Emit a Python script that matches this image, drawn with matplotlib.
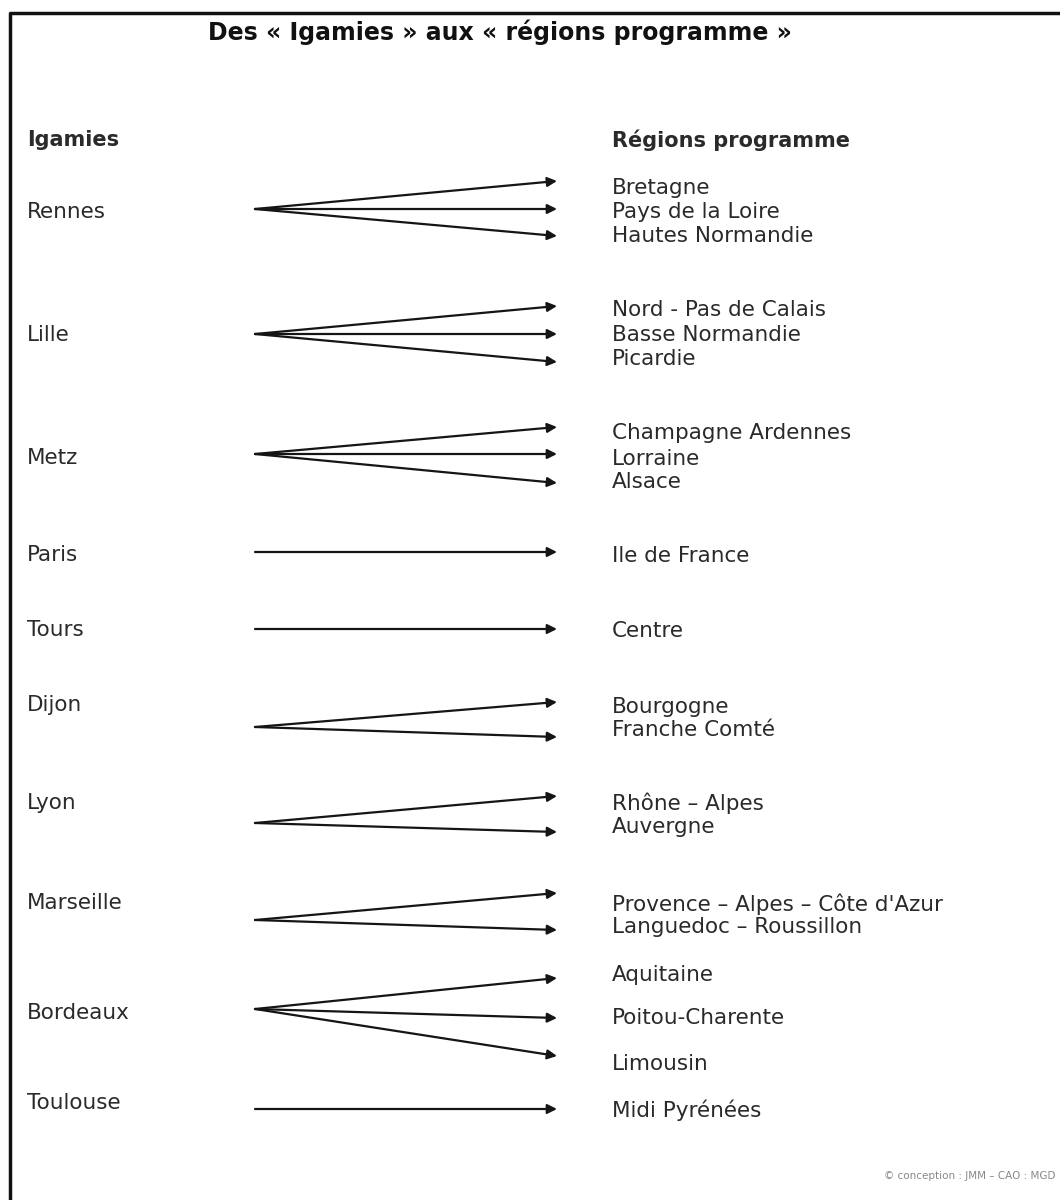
import matplotlib.pyplot as plt

# igamies and the regions they were split into
igamies = ['Rennes', 'Lille', 'Metz', 'Paris', 'Tours', 'Dijon', 'Lyon',
           'Marseille', 'Bordeaux', 'Toulouse']
regions = [
    ['Bretagne', 'Pays de la Loire', 'Hautes Normandie'],
    ['Nord - Pas de Calais', 'Basse Normandie', 'Picardie'],
    ['Champagne Ardennes', 'Lorraine', 'Alsace'],
    ['Ile de France'],
    ['Centre'],
    ['Bourgogne', 'Franche Comté'],
    ['Rhône – Alpes', 'Auvergne'],
    ['Provence – Alpes – Côte d\'Azur', 'Languedoc – Roussillon'],
    ['Aquitaine', 'Poitou-Charente', 'Limousin'],
    ['Midi Pyrénées'],
]

# layout (pixel rows of the original sheet)
igamie_y = [212, 335, 458, 555, 630, 705, 803, 903, 1013, 1103]
source_y = [209, 334, 454, 552, 629, 727, 823, 920, 1009, 1109]
target_y = [[181, 209, 236], [306, 334, 362], [427, 454, 483], [552], [629],
            [702, 737], [796, 832], [893, 930], [978, 1018, 1056], [1109]]
region_y = [[188, 212, 236], [310, 335, 359], [433, 459, 482], [556], [631],
            [707, 730], [803, 827], [904, 927], [975, 1018, 1064], [1110]]

fig = plt.figure(figsize=(10.6, 12), dpi=100)
ax = fig.add_axes([0, 0, 1, 1])
ax.set_xlim(0, 1060)
ax.set_ylim(1200, 0)
ax.axis('off')

txt = dict(family='DejaVu Sans', fontsize=15.5, color='#2a2a2a', va='center')

# frame
ax.plot([10, 10, 1060], [1200, 13, 13], color='#111111', lw=2.5, clip_on=False)

ax.text(500, 32, 'Des « Igamies » aux « régions programme »', family='DejaVu Sans',
        fontsize=17, fontweight='bold', ha='center', va='center', color='#111111')
hdr = dict(txt, fontsize=15)
ax.text(27, 140, 'Igamies', ha='left', fontweight='bold', **hdr)
ax.text(612, 140, 'Régions programme', ha='left', fontweight='bold', **hdr)

for name, ys, sy, tys, rys, rnames in zip(igamies, igamie_y, source_y, target_y, region_y, regions):
    ax.text(27, ys, name, ha='left', **txt)
    for ty in tys:
        ax.annotate('', xy=(557, ty), xytext=(255, sy),
                    arrowprops=dict(arrowstyle='-|>', color='#151515', lw=1.6,
                                    mutation_scale=14, shrinkA=0, shrinkB=0))
    for ry, rn in zip(rys, rnames):
        ax.text(612, ry, rn, ha='left', **txt)

ax.text(1055, 1176, '© conception : JMM – CAO : MGD', ha='right', va='center',
        family='DejaVu Sans', fontsize=7.5, color='#888888')

fig.savefig('out.png', dpi=100, facecolor='white')
